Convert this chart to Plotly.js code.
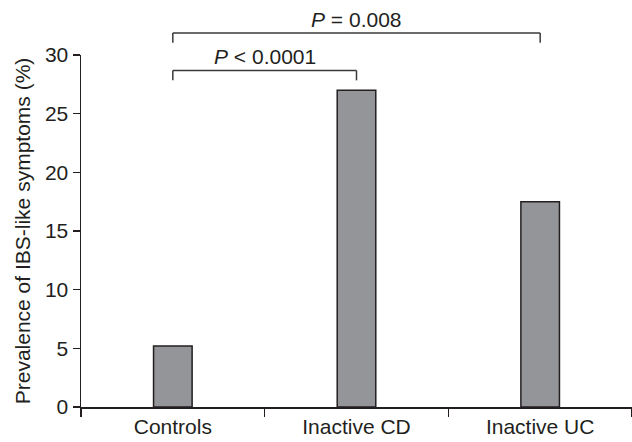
<!DOCTYPE html>
<html>
<head>
<meta charset="utf-8">
<script src="https://cdn.plot.ly/plotly-3.0.1.min.js"></script>
<style>html,body{margin:0;padding:0;background:#fff;}#chart{width:632px;height:442px;}</style>
</head>
<body>
<div id="chart"></div>
<script>
// Data
const categories = ['Controls', 'Inactive CD', 'Inactive UC'];
const prevalence = [5.2, 27.0, 17.5];
const yTickVals = [0, 5, 10, 15, 20, 25, 30];
const compStart = ['Controls', 'Controls'];
const compEnd = ['Inactive UC', 'Inactive CD'];
const compLabels = ['<i>P</i> = 0.008', '<i>P</i> &lt; 0.0001'];

// Styling
const ink = '#231f20';
const font = {family: 'Liberation Sans, Arial, sans-serif', size: 21, color: ink};
const bracketY = [1.0625, 0.956];
const bracketDrop = 0.028;

const shapes = [];
const annotations = [];
for (let i = 0; i < compLabels.length; i++) {
  const line = {color: '#3a3a3a', width: 1.5};
  shapes.push({type: 'line', xref: 'x', yref: 'paper', x0: compStart[i], x1: compEnd[i], y0: bracketY[i], y1: bracketY[i], line});
  shapes.push({type: 'line', xref: 'x', yref: 'paper', x0: compStart[i], x1: compStart[i], y0: bracketY[i], y1: bracketY[i] - bracketDrop, line});
  shapes.push({type: 'line', xref: 'x', yref: 'paper', x0: compEnd[i], x1: compEnd[i], y0: bracketY[i], y1: bracketY[i] - bracketDrop, line});
  const a = categories.indexOf(compStart[i]);
  const b = categories.indexOf(compEnd[i]);
  annotations.push({xref: 'x', yref: 'paper', x: (a + b) / 2, y: bracketY[i], yanchor: 'bottom', xanchor: 'center',
    text: compLabels[i], showarrow: false, font, yshift: 0});
}

const trace = {
  type: 'bar',
  x: categories,
  y: prevalence,
  width: 0.21,
  marker: {color: '#939598', line: {color: ink, width: 1.5}},
  hoverinfo: 'skip'
};

const layout = {
  width: 632, height: 442,
  margin: {l: 81, r: 0, t: 55, b: 35},
  paper_bgcolor: '#fff', plot_bgcolor: '#fff',
  font,
  showlegend: false,
  xaxis: {
    type: 'category', range: [-0.5, 2.5],
    showline: true, linecolor: ink, linewidth: 1.5,
    ticks: 'outside', tickson: 'boundaries', ticklen: 8, tickwidth: 1.5, tickcolor: ink,
    showgrid: false, zeroline: false, tickfont: font, fixedrange: true
  },
  yaxis: {
    range: [0, 30], tickvals: yTickVals,
    showline: true, linecolor: ink, linewidth: 1.5,
    ticks: 'outside', ticklen: 7, tickwidth: 1.5, tickcolor: ink,
    showgrid: false, zeroline: false, tickfont: font, fixedrange: true,
    title: {text: 'Prevalence of IBS-like symptoms (%)', font, standoff: 8}
  },
  shapes, annotations
};

Plotly.newPlot('chart', [trace], layout, {displayModeBar: false, staticPlot: true});
</script>
</body>
</html>
